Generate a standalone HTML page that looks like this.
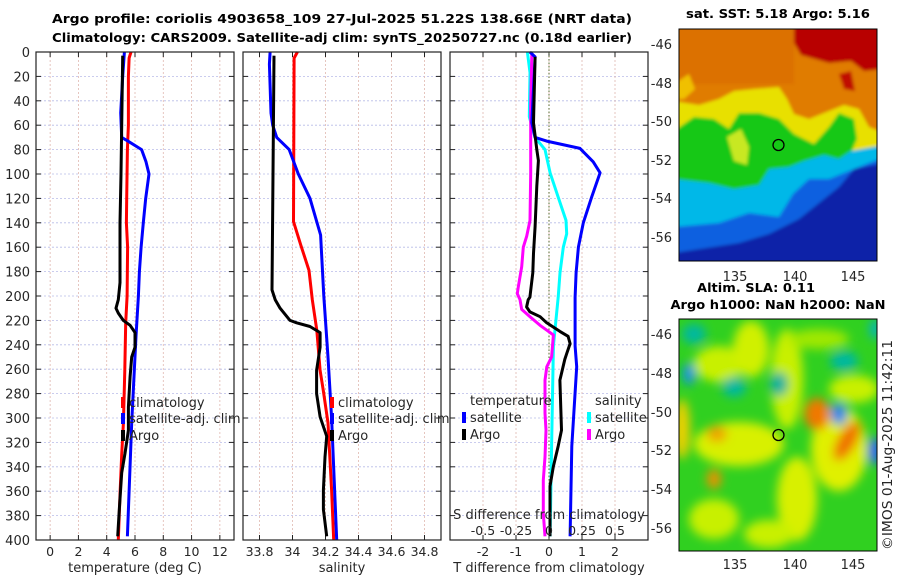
<!DOCTYPE html>
<html><head><meta charset="utf-8"><style>
body{margin:0;background:#fff}
svg{display:block;font-family:"DejaVu Sans","Liberation Sans",sans-serif}
</style></head><body>
<svg id="fig" width="900" height="580" viewBox="0 0 900 580" xmlns="http://www.w3.org/2000/svg">
<defs>
<filter id="bl" x="-20%" y="-20%" width="140%" height="140%"><feGaussianBlur stdDeviation="1.5"/></filter>
<filter id="bl2" x="-50%" y="-50%" width="200%" height="200%"><feGaussianBlur stdDeviation="5"/></filter>
<clipPath id="cm1"><rect x="0" y="0" width="198" height="232"/></clipPath>
<clipPath id="cm2"><rect x="0" y="0" width="198" height="232"/></clipPath>
</defs>
<g font-weight="bold" font-size="12.5" text-anchor="middle" fill="#000">
<text x="342" y="23" textLength="580" lengthAdjust="spacingAndGlyphs">Argo profile: coriolis 4903658_109 27-Jul-2025 51.22S 138.66E (NRT data)</text>
<text x="342" y="42" textLength="580" lengthAdjust="spacingAndGlyphs">Climatology: CARS2009. Satellite-adj clim: synTS_20250727.nc (0.18d earlier)</text>
</g>
<g id="panels"></g>

<!-- top map -->
<text x="778" y="18" font-size="12.5" font-weight="bold" text-anchor="middle" textLength="184" lengthAdjust="spacingAndGlyphs">sat. SST: 5.18 Argo: 5.16</text>
<g transform="translate(679,29)">
<g clip-path="url(#cm1)"><g filter="url(#bl)">
<rect x="-5" y="-5" width="210" height="245" fill="#e07c00"/>
<rect x="-5" y="-5" width="120" height="60" fill="#d86a00" opacity="0.6"/>
<polygon fill="#b80000" points="115,-5 205,-5 205,40 185,42 172,32 150,34 122,26 115,14"/>
<polygon fill="#c01000" points="160,45 172,42 176,62 165,60"/>
<polygon fill="#e8e000" points="-5,72 20,76 40,70 55,62 75,60 100,58 108,70 115,85 130,90 150,82 165,76 180,80 190,98 205,104 205,240 -5,240"/>
<polygon fill="#f0c000" points="-5,55 10,45 16,60 5,70 -5,70"/>
<polygon fill="#18c818" points="-5,102 15,88 35,90 50,100 60,84 80,84 100,90 115,105 135,115 150,98 160,84 175,90 178,110 172,124 205,118 205,240 -5,240"/>
<polygon fill="#c8e820" points="48,108 62,100 70,118 68,136 55,132"/>
<polygon fill="#00b8e8" points="-5,150 30,154 55,160 80,156 90,140 110,138 125,132 145,126 160,130 172,122 205,116 205,240 -5,240"/>
<polygon fill="#1060e0" points="-5,198 40,194 70,184 100,188 114,165 130,150 150,150 165,144 205,128 205,240 -5,240"/>
<polygon fill="#0820a8" points="90,205 120,190 140,174 160,158 175,140 205,134 205,240 -5,240 -5,224 60,214"/>
</g></g>
<rect x="0" y="0" width="198" height="232" fill="none" stroke="#000" stroke-width="1"/>
<circle cx="99.5" cy="116" r="5.5" fill="none" stroke="#000" stroke-width="1.3"/>
</g>
<g font-size="13" fill="#262626">
<text x="672" y="49" text-anchor="end">-46</text><text x="672" y="88" text-anchor="end">-48</text>
<text x="672" y="126" text-anchor="end">-50</text><text x="672" y="165" text-anchor="end">-52</text>
<text x="672" y="203" text-anchor="end">-54</text><text x="672" y="242" text-anchor="end">-56</text>
<text x="735" y="281" text-anchor="middle">135</text><text x="795" y="281" text-anchor="middle">140</text><text x="853" y="281" text-anchor="middle">145</text>
</g>

<!-- bottom map -->
<g font-size="12.5" font-weight="bold" text-anchor="middle">
<text x="756" y="292" textLength="118" lengthAdjust="spacingAndGlyphs">Altim. SLA: 0.11</text>
<text x="778" y="309" textLength="215" lengthAdjust="spacingAndGlyphs">Argo h1000: NaN h2000: NaN</text>
</g>
<g transform="translate(679,319)">
<g clip-path="url(#cm2)">
<rect x="0" y="0" width="198" height="232" fill="#30d020"/>
<g filter="url(#bl2)">
<ellipse cx="40" cy="45" rx="25" ry="18" fill="#c8f000"/>
<ellipse cx="72" cy="30" rx="18" ry="28" fill="#d0f000"/>
<ellipse cx="108" cy="60" rx="16" ry="50" fill="#c8f000"/>
<ellipse cx="60" cy="125" rx="45" ry="22" fill="#d8f000"/>
<ellipse cx="118" cy="180" rx="20" ry="42" fill="#d8f000"/>
<ellipse cx="175" cy="70" rx="25" ry="14" fill="#c8f000"/>
<ellipse cx="160" cy="130" rx="28" ry="42" fill="#e0f000"/>
<ellipse cx="35" cy="200" rx="25" ry="20" fill="#c8f000"/>
<ellipse cx="90" cy="215" rx="25" ry="14" fill="#c8f000"/>
<ellipse cx="3" cy="110" rx="8" ry="30" fill="#f0d000"/>
<ellipse cx="140" cy="20" rx="30" ry="10" fill="#a0e800"/>
<ellipse cx="138" cy="95" rx="13" ry="16" fill="#f07800"/>
<ellipse cx="168" cy="122" rx="9" ry="22" fill="#f07000" transform="rotate(30 168 122)"/>
<ellipse cx="38" cy="115" rx="10" ry="8" fill="#f0a000"/>
<ellipse cx="35" cy="160" rx="7" ry="10" fill="#f09000"/>
<ellipse cx="10" cy="55" rx="6" ry="11" fill="#1090f0"/>
<ellipse cx="160" cy="95" rx="8" ry="11" fill="#1080f0"/>
<ellipse cx="196" cy="132" rx="7" ry="14" fill="#1060f0"/>
<ellipse cx="15" cy="15" rx="12" ry="10" fill="#00b8a0"/>
<ellipse cx="100" cy="65" rx="9" ry="12" fill="#00b0a0"/>
<ellipse cx="55" cy="68" rx="12" ry="10" fill="#00b8a0"/>
<ellipse cx="165" cy="42" rx="14" ry="10" fill="#00b8a0"/>
<ellipse cx="196" cy="10" rx="5" ry="10" fill="#00b0d0"/>
</g></g>
<rect x="0" y="0" width="198" height="232" fill="none" stroke="#000" stroke-width="1"/>
<circle cx="99.5" cy="116" r="5.5" fill="none" stroke="#000" stroke-width="1.3"/>
</g>
<g font-size="13" fill="#262626">
<text x="672" y="339" text-anchor="end">-46</text><text x="672" y="378" text-anchor="end">-48</text>
<text x="672" y="417" text-anchor="end">-50</text><text x="672" y="455" text-anchor="end">-52</text>
<text x="672" y="494" text-anchor="end">-54</text><text x="672" y="533" text-anchor="end">-56</text>
<text x="735" y="569" text-anchor="middle">135</text><text x="795" y="569" text-anchor="middle">140</text><text x="853" y="569" text-anchor="middle">145</text>
</g>
<text font-size="13" fill="#262626" text-anchor="middle" transform="translate(892,445) rotate(-90)" textLength="210" lengthAdjust="spacingAndGlyphs">©IMOS 01-Aug-2025 11:42:11</text>
</svg>
<script>
// ---- data (depth in m) ----
const tClimDepth = [0,5,20,60,80,120,140,160,200,222,261,304,330,359,400];
const tClimVal   = [5.72,5.58,5.53,5.53,5.46,5.41,5.39,5.48,5.44,5.34,5.28,5.18,5.06,4.95,4.82];
const tSatDepth = [0,20,50,70,73,80,90,100,120,140,160,180,200,233,304,397];
const tSatVal   = [5.25,5.13,4.99,5.06,5.5,6.47,6.78,6.99,6.76,6.59,6.43,6.31,6.24,6.07,5.77,5.46];
const tArgoDepth = [3,100,140,189,203,210,214,220,224,230,242,250,266,291,310,329,345,375,397];
const tArgoVal   = [5.13,5.01,4.94,4.94,4.82,4.66,4.82,5.17,5.65,6.0,6.0,5.77,5.65,5.53,5.53,5.29,5.06,4.89,4.78];

const sClimDepth = [0,5,139,158,179,203,228,261,277,304,359,400];
const sClimVal   = [34.03,34.01,34.006,34.05,34.1,34.12,34.147,34.167,34.186,34.215,34.237,34.25];
const sSatDepth = [0,10,50,60,70,80,100,120,150,200,250,300,400];
const sSatVal   = [33.864,33.86,33.87,33.88,33.904,33.98,34.035,34.106,34.17,34.19,34.215,34.237,34.268];
const sArgoDepth = [3,100,195,203,210,220,222,225,230,242,261,280,299,315,332,359,375,397];
const sArgoVal   = [33.888,33.882,33.876,33.895,33.925,33.985,34.025,34.106,34.167,34.167,34.146,34.146,34.167,34.207,34.197,34.187,34.187,34.207];

const dTSatDepth = [0,4,58,70,73,79,90,99,119,140,160,181,201,241,258,323,397];
const dTSatVal   = [-0.58,-0.42,-0.52,-0.42,-0.07,0.94,1.34,1.55,1.29,1.04,0.89,0.82,0.79,0.79,0.84,0.69,0.64];
const dTArgoDepth = [4,58,80,89,110,143,165,181,201,203,209,213,217,222,229,233,239,247,252,269,310,323,340,356,397];
const dTArgoVal   = [-0.42,-0.47,-0.37,-0.32,-0.37,-0.42,-0.47,-0.49,-0.58,-0.63,-0.68,-0.58,-0.27,-0.07,0.33,0.58,0.64,0.54,0.48,0.33,0.38,0.28,0.13,0.03,0.03];
const dSSatDepth = [0,17,53,70,80,99,119,138,149,160,181,201,241,323,397];
const dSSatVal   = [-0.164,-0.144,-0.149,-0.106,-0.03,0.008,0.07,0.129,0.134,0.108,0.083,0.07,0.033,0.02,0.008];
const dSArgoDepth = [2,45,99,138,151,160,176,192,198,203,211,217,224,228,232,250,258,269,296,310,332,351,378,397];
const dSArgoVal   = [-0.13,-0.139,-0.139,-0.144,-0.169,-0.195,-0.207,-0.232,-0.24,-0.22,-0.207,-0.144,-0.068,-0.017,0.033,0.02,-0.017,-0.03,-0.03,-0.023,-0.03,-0.043,-0.043,-0.03];

const depthTicks = [0,20,40,60,80,100,120,140,160,180,200,220,240,260,280,300,320,340,360,380,400];
const tTicks = [0,2,4,6,8,10,12];
const sTicks = [33.8,34,34.2,34.4,34.6,34.8];
const dTTicks = [-2,-1,0,1,2];
const dSTicks = [-0.5,-0.25,0,0.25,0.5];
const dSTickLabels = ["-0.5","-0.25","0","0.25","0.5"];

// ---- layout ----
const NS = "http://www.w3.org/2000/svg";
const Y0 = 52, Y1 = 540;
const yS = d => Y0 + (Y1 - Y0) * d / 400;
function xScale(p){ return v => p.x0 + (p.x1 - p.x0) * (v - p.min) / (p.max - p.min); }
const P1 = {x0:36, x1:234, min:-1, max:13};
const P2 = {x0:243, x1:441, min:33.7, max:34.9};
const P3 = {x0:450, x1:648, min:-3, max:3};
const P3s = {x0:450, x1:648, min:-0.75, max:0.75};
const root = document.getElementById('panels');
function mk(tag, attrs, parent){ const e = document.createElementNS(NS, tag); for (const k in attrs) e.setAttribute(k, attrs[k]); (parent||root).appendChild(e); return e; }

function panel(p, name, xt, xlabels, title){
  const g = mk('g', {});
  
  
  const xs = xScale(p);
  mk('rect', {x:p.x0, y:Y0, width:p.x1-p.x0, height:Y1-Y0, fill:'#fff'}, g);
  depthTicks.forEach(d => {
    if (d>0 && d<400) mk('line', {x1:p.x0, x2:p.x1, y1:yS(d), y2:yS(d), stroke:'#b8bce8', 'stroke-width':0.8, 'stroke-dasharray':'2,2'}, g);
    mk('line', {x1:p.x0, x2:p.x0+5, y1:yS(d), y2:yS(d), stroke:'#222', 'stroke-width':1}, g);
    mk('line', {x1:p.x1-5, x2:p.x1, y1:yS(d), y2:yS(d), stroke:'#222', 'stroke-width':1}, g);
  });
  xt.forEach((v,i) => {
    const x = xs(v);
    mk('line', {x1:x, x2:x, y1:Y0, y2:Y1, stroke:'#e0b8b0', 'stroke-width':0.8, 'stroke-dasharray':'2,2'}, g);
    mk('line', {x1:x, x2:x, y1:Y1-5, y2:Y1, stroke:'#222'}, g);
    mk('line', {x1:x, x2:x, y1:Y0, y2:Y0+5, stroke:'#222'}, g);
    const t = mk('text', {x:x, y:556, 'font-size':12.5, fill:'#262626', 'text-anchor':'middle'}, g);
    t.textContent = xlabels[i];
  });
  const tt = mk('text', {x:(p.x0+p.x1)/2, y:572, 'font-size':13, fill:'#262626', 'text-anchor':'middle'}, g);
  tt.textContent = title;
  return g;
}
function line(g, xs, depths, vals, color, name, w){
  const d = depths.map((dp,i) => (i?'L':'M') + xs(vals[i]).toFixed(1) + ',' + yS(dp).toFixed(1)).join('');
  const el = mk('path', {d:d, fill:'none', stroke:color, 'stroke-width':w||3, 'stroke-linejoin':'round'}, g);
  
  
}
function legendEntry(g, x, y, color, label, name){
  const e = mk('g', {}, g);
  
  
  mk('rect', {x:x, y:y-10, width:4, height:11, fill:color}, e);
  const t = mk('text', {x:x+8, y:y, 'font-size':13, fill:'#262626'}, e);
  t.textContent = label;
}

// y tick labels
depthTicks.forEach(d => {
  const t = mk('text', {x:30, y:yS(d)+5, 'font-size':13, fill:'#262626', 'text-anchor':'end'});
  
  
  t.textContent = d;
});

// panel 1
const g1 = panel(P1, 'temperature-panel', tTicks, tTicks.map(String), 'temperature (deg C)');
const x1 = xScale(P1);
line(g1, x1, tClimDepth, tClimVal, '#ff0000', 'temperature-climatology-line');
line(g1, x1, tSatDepth, tSatVal, '#0000ff', 'temperature-satellite-line');
line(g1, x1, tArgoDepth, tArgoVal, '#000000', 'temperature-argo-line');
mk('rect', {x:P1.x0, y:Y0, width:P1.x1-P1.x0, height:Y1-Y0, fill:'none', stroke:'#222', 'stroke-width':1.2}, g1);
legendEntry(g1, 121, 407, '#ff0000', 'climatology', 'legend-climatology');
legendEntry(g1, 121, 423, '#0000ff', 'satellite-adj. clim', 'legend-satellite-adj');
legendEntry(g1, 121, 440, '#000000', 'Argo', 'legend-argo');

// panel 2
const g2 = panel(P2, 'salinity-panel', sTicks, sTicks.map(String), 'salinity');
const x2 = xScale(P2);
line(g2, x2, sClimDepth, sClimVal, '#ff0000', 'salinity-climatology-line');
line(g2, x2, sSatDepth, sSatVal, '#0000ff', 'salinity-satellite-line');
line(g2, x2, sArgoDepth, sArgoVal, '#000000', 'salinity-argo-line');
mk('rect', {x:P2.x0, y:Y0, width:P2.x1-P2.x0, height:Y1-Y0, fill:'none', stroke:'#222', 'stroke-width':1.2}, g2);
legendEntry(g2, 330, 407, '#ff0000', 'climatology', 'legend-climatology-s');
legendEntry(g2, 330, 423, '#0000ff', 'satellite-adj. clim', 'legend-satellite-adj-s');
legendEntry(g2, 330, 440, '#000000', 'Argo', 'legend-argo-s');

// panel 3
const g3 = panel(P3, 'difference-panel', dTTicks, dTTicks.map(String), 'T difference from climatology');
const x3 = xScale(P3), x3s = xScale(P3s);
mk('line', {x1:x3(0), x2:x3(0), y1:Y0, y2:Y1, stroke:'#556b2f', 'stroke-width':1, 'stroke-dasharray':'1.5,2'}, g3);
line(g3, x3s, dSSatDepth, dSSatVal, '#00ffff', 'salinity-diff-satellite-line');
line(g3, x3s, dSArgoDepth, dSArgoVal, '#ff00ff', 'salinity-diff-argo-line');
line(g3, x3, dTSatDepth, dTSatVal, '#0000ff', 'temperature-diff-satellite-line');
line(g3, x3, dTArgoDepth, dTArgoVal, '#000000', 'temperature-diff-argo-line');
mk('rect', {x:P3.x0, y:Y0, width:P3.x1-P3.x0, height:Y1-Y0, fill:'none', stroke:'#222', 'stroke-width':1.2}, g3);
const lt = mk('text', {x:470, y:405, 'font-size':13, fill:'#262626'}, g3); lt.textContent = 'temperature';
const ls = mk('text', {x:595, y:405, 'font-size':13, fill:'#262626'}, g3); ls.textContent = 'salinity';
legendEntry(g3, 462, 422, '#0000ff', 'satellite', 'legend-temp-satellite');
legendEntry(g3, 462, 439, '#000000', 'Argo', 'legend-temp-argo');
legendEntry(g3, 587, 422, '#00ffff', 'satellite', 'legend-sal-satellite');
legendEntry(g3, 587, 439, '#ff00ff', 'Argo', 'legend-sal-argo');
const st = mk('text', {x:549, y:519, 'font-size':13, fill:'#262626', 'text-anchor':'middle'}, g3);


st.textContent = 'S difference from climatology';
dSTicks.forEach((v,i) => {
  const t = mk('text', {x:x3s(v), y:535, 'font-size':12.5, fill:'#262626', 'text-anchor':'middle'}, g3);
  
  
  t.textContent = dSTickLabels[i];
});
</script>
</body></html>
